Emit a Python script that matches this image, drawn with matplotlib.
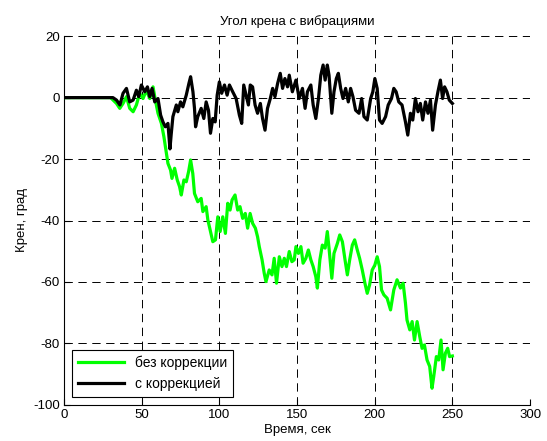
import matplotlib
matplotlib.use("Agg")
import matplotlib.pyplot as plt

# время, сек / крен, град (с коррекцией)
t_corr = [0, 31.5, 33.8, 36, 38, 40.2, 42.3, 44.5, 46.6, 48.1,
          49.8, 52, 53.7, 55.2, 56.7, 58.4, 60.5, 62.2, 63.7, 65.2,
          66.9, 68.2, 69, 70.1, 72.3, 73.3, 75, 76.5, 78.7, 80.4,
          81.5, 83, 84, 84.7, 86.1, 88.3, 90, 91.5, 93, 94.3,
          95.8, 97.3, 98.6, 100, 101.5, 103.3, 105, 106.5, 108.6, 110.8,
          112.9, 114.4, 115.7, 117.2, 118.7, 119.9, 121.4, 123, 124.6, 126.4,
          127.8, 129.4, 131, 132.8, 134.3, 135.8, 137.5, 139.2, 140.7, 142.2,
          143.9, 145, 147, 149.3, 151.4, 153.5, 155.2, 156.7, 158.9, 160.4,
          162.1, 163.8, 165.3, 166.8, 168.1, 169.5, 170.6, 172.4, 173.8, 175.3,
          176.6, 178.1, 179.6, 181.3, 183, 184.5, 186, 187.7, 189.9, 191.6,
          193.1, 195.2, 197.4, 198.8, 200.1, 201.6, 203.1, 204.8, 207, 208.7,
          210.8, 212.3, 213.8, 215.5, 217.6, 219.8, 221.3, 223, 224.5, 226.2,
          227.9, 229.4, 230.9, 232.7, 234.3, 235.9, 237.3, 239.1, 240.7, 242.3,
          243.7, 245, 246.5, 248, 250]
roll_corr = [0, 0, -0.8, -2.4, 1.4, 3.0, -1.4, -0.8, 2.4, 0.3,
             4.1, 1.9, 3.5, 0.3, 3.0, -1.4, -0.3, -5.7, -7.9, -9.5,
             -8.4, -16.7, -12.0, -6.2, -2.4, -4.6, -1.4, -3.0, 0.8, 4.6,
             6.8, 1.9, -3.5, -9.5, -6.2, -3.5, -6.8, -1.4, -4.1, -11.6,
             -6.8, -7.9, 0.8, 5.1, 1.4, 4.1, 0.8, 4.1, 1.9, -0.3,
             -5.7, -8.4, 4.1, 0.8, -2.4, 4.1, 3.5, -2.4, -5.1, -1.9,
             -6.8, -10.6, -3.5, -0.3, 3.0, 0.3, 4.6, 7.9, 3.0, 6.2,
             3.5, 7.3, 1.9, 5.7, -0.3, 3.0, -3.5, 1.9, 4.1, -2.4,
             -6.8, -0.3, 7.3, 10.6, 5.7, 10.6, 7.3, -5.1, 1.9, 6.2,
             7.9, 3.0, -0.3, 3.0, -1.4, 3.0, 0.3, -4.1, -5.1, -0.3,
             -6.2, -7.3, -0.3, 1.9, 6.2, 3.0, -7.3, -8.4, -6.2, -2.4,
             -0.3, 3.0, 1.9, -1.4, -2.4, -7.9, -12.2, -5.1, -7.3, -0.3,
             -4.6, -1.9, -7.3, -1.4, -5.1, -0.8, -10.6, -2.4, 1.9, 5.7,
             -0.3, 3.5, 1.9, -0.8, -1.9]

# без коррекции
t_raw = [0, 30, 33.8, 35.9, 38, 40.2, 42.3, 44.5, 46.6, 48.7,
         50.9, 53, 55.2, 57.3, 58.8, 60.5, 62.7, 64.3, 65.9, 66.9,
         68.6, 69.5, 71.2, 72.9, 74.4, 75.5, 77.2, 78.7, 80.2, 81.5,
         82.9, 84, 86.1, 88.3, 89.4, 91.5, 92.6, 94.1, 95.8, 97.5,
         99, 100.5, 102.2, 103.9, 105.4, 106.9, 108.2, 110.1, 111.8, 113.3,
         115, 116.7, 118.2, 119.8, 121.4, 123.2, 124.6, 125.7, 127.5, 128.9,
         130, 132.1, 133.9, 135.3, 136.8, 138.6, 140.3, 141.8, 143.2, 145,
         146.7, 148.2, 149.3, 150.9, 152.5, 153.9, 155.7, 157.3, 158.9, 160.4,
         162.1, 163.1, 164.7, 166.3, 168.1, 169.5, 170.6, 172.4, 173.8, 176,
         177.5, 179.2, 180.9, 182.4, 183.9, 185.6, 187.1, 188.8, 190.3, 192,
         193.7, 195.2, 196.7, 198.4, 200.1, 201.6, 203.1, 204.4, 205.9, 208,
         210.2, 212.3, 214.4, 216.6, 218.3, 219.8, 220.8, 222.6, 224.1, 225.6,
         227.3, 229, 230.5, 232, 233.7, 235.4, 236.9, 238, 239.7, 241.2,
         242.7, 244, 245.5, 247, 248.2, 250]
roll_raw = [0, 0, -1.9, -3.5, -1.9, 0.3, -3.5, -4.6, -2.4, 1.4,
            -0.3, 2.4, -0.3, 3.5, -0.8, -5.1, -8.4, -12.7, -18.1, -21.4,
            -23.6, -26.3, -23.0, -26.8, -29.0, -31.7, -26.8, -27.4, -24.1, -20.3,
            -24.7, -31.2, -33.9, -32.8, -37.1, -35.5, -39.8, -43.1, -46.9, -46.3,
            -38.8, -43.6, -38.8, -44.2, -34.4, -36.6, -33.3, -31.7, -36.6, -35.5,
            -39.3, -37.7, -42.5, -37.7, -40.9, -42.5, -45.3, -48.5, -52.8, -57.2,
            -59.9, -56.1, -57.7, -52.3, -60.4, -51.8, -55.0, -52.3, -55.0, -50.1,
            -53.4, -52.8, -48.5, -50.7, -48.5, -53.9, -52.3, -49.6, -52.8, -55.0,
            -58.3, -62.0, -52.8, -48.0, -49.0, -43.6, -49.0, -58.8, -50.7, -47.4,
            -44.7, -46.9, -52.8, -57.7, -52.8, -48.0, -46.3, -49.6, -52.3, -56.1,
            -60.4, -63.7, -61.0, -56.1, -54.5, -51.8, -55.0, -62.6, -64.2, -65.3,
            -69.1, -62.6, -59.3, -62.0, -60.4, -66.9, -72.4, -75.6, -72.9, -78.9,
            -72.9, -77.8, -81.6, -80.5, -85.4, -87.5, -94.6, -90.8, -84.3, -85.4,
            -78.9, -88.6, -83.2, -81.6, -84.3, -84.1]

plt.rcParams['font.family'] = 'Liberation Sans'
plt.rcParams['font.size'] = 9.5
plt.rcParams['axes.unicode_minus'] = False
plt.rcParams['lines.scale_dashes'] = False

fig = plt.figure(figsize=(5.47, 4.41), dpi=100)
ax = fig.add_axes([0.117, 0.082, 0.852, 0.836])

ax.plot(t_raw, roll_raw, color='#00ff00', lw=2.3, label='без коррекции', zorder=3)
ax.plot(t_corr, roll_corr, color='k', lw=2.3, label='с коррекцией', zorder=4)

ax.set_xlim(0, 300)
ax.set_ylim(-100, 20)
ax.set_xticks(range(0, 301, 50))
ax.set_yticks(range(-100, 21, 20))
ax.grid(True, color='k', lw=0.7, ls=(0, (6, 4)))
ax.spines['top'].set_visible(False)
ax.spines['right'].set_visible(False)
ax.tick_params(direction='in', length=4, pad=3)

ax.set_title('Угол крена с вибрациями', fontsize=9.5, pad=8)
ax.set_xlabel('Время, сек', labelpad=2)
ax.set_ylabel('Крен, град', labelpad=4)

leg = ax.legend(loc='lower left', fancybox=False, edgecolor='k', fontsize=10,
                framealpha=1, handlelength=3.3, borderaxespad=0.6)
leg.get_frame().set_linewidth(0.8)

fig.savefig('out.png', dpi=100)
